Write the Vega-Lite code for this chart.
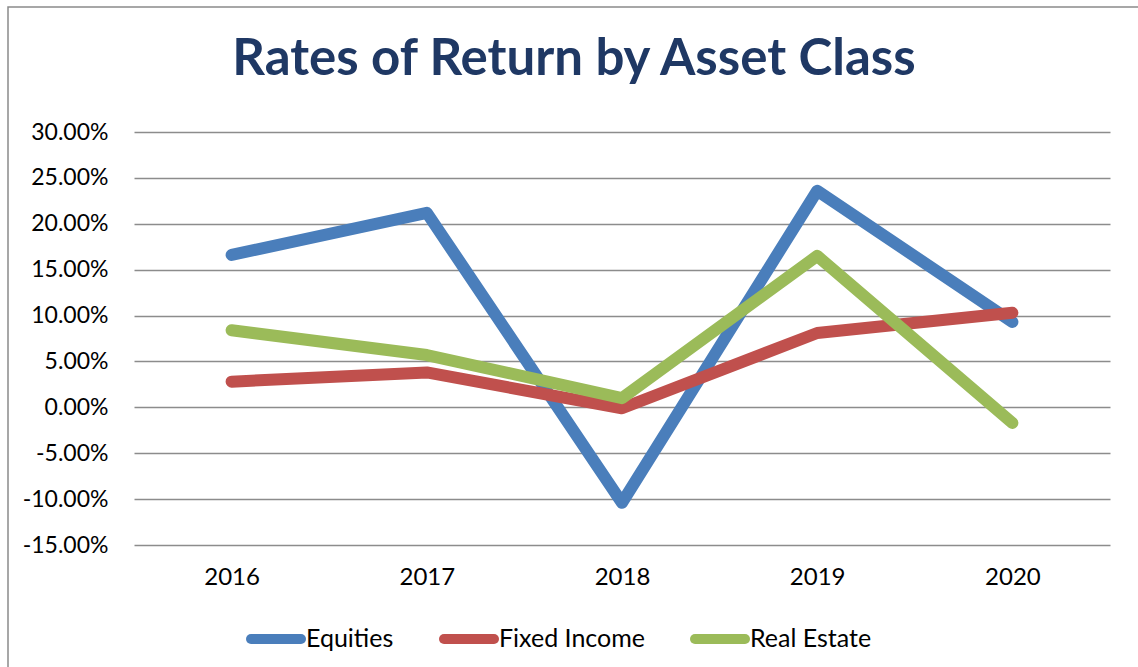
{
  "$schema": "https://vega.github.io/schema/vega-lite/v6.json",
  "autosize": "none",
  "width": 1132,
  "height": 661,
  "padding": {"left": 8, "top": 7, "right": 0, "bottom": 0},
  "background": "white",
  "title": {
    "text": "Rates of Return by Asset Class",
    "anchor": "middle",
    "font": "Lato",
    "fontWeight": "bold",
    "fontSize": 51,
    "color": "#1F3864",
    "baseline": "alphabetic",
    "offset": -119
  },
  "config": {
    "view": {"stroke": "#8a8a8a", "strokeWidth": 1.5},
    "font": "Lato"
  },
  "data": {
    "values": [
      {"year": "2016", "series": "Equities", "value": 0.166},
      {"year": "2017", "series": "Equities", "value": 0.212},
      {"year": "2018", "series": "Equities", "value": -0.104},
      {"year": "2019", "series": "Equities", "value": 0.236},
      {"year": "2020", "series": "Equities", "value": 0.093},
      {"year": "2016", "series": "Fixed Income", "value": 0.028},
      {"year": "2017", "series": "Fixed Income", "value": 0.038},
      {"year": "2018", "series": "Fixed Income", "value": -0.001},
      {"year": "2019", "series": "Fixed Income", "value": 0.081},
      {"year": "2020", "series": "Fixed Income", "value": 0.103},
      {"year": "2016", "series": "Real Estate", "value": 0.084},
      {"year": "2017", "series": "Real Estate", "value": 0.057},
      {"year": "2018", "series": "Real Estate", "value": 0.010},
      {"year": "2019", "series": "Real Estate", "value": 0.165},
      {"year": "2020", "series": "Real Estate", "value": -0.017}
    ]
  },
  "mark": {"type": "line", "strokeWidth": 12, "strokeCap": "round", "strokeJoin": "round"},
  "encoding": {
    "x": {
      "field": "year",
      "type": "ordinal",
      "scale": {"type": "point", "padding": 0, "range": [223.6, 1004.4]},
      "axis": {
        "title": null,
        "orient": "bottom",
        "offset": -123,
        "domain": false,
        "ticks": false,
        "grid": false,
        "labelAngle": 0,
        "labelFont": "Lato",
        "labelFontSize": 24,
        "labelColor": "#000000",
        "labelPadding": 20
      }
    },
    "y": {
      "field": "value",
      "type": "quantitative",
      "scale": {"domain": [-0.15, 0.30], "range": [538, 125], "nice": false, "zero": false},
      "axis": {
        "title": null,
        "orient": "left",
        "offset": -1102,
        "values": [-0.15, -0.10, -0.05, 0, 0.05, 0.10, 0.15, 0.20, 0.25, 0.30],
        "format": ".2%",
        "labelExpr": "replace(datum.label, '\u2212', '-')",
        "domain": false,
        "grid": false,
        "ticks": true,
        "tickSize": 976,
        "tickColor": "#8c8c8c",
        "tickWidth": 1.5,
        "labelPadding": 26,
        "labelFont": "Lato",
        "labelFontSize": 23,
        "labelColor": "#000000"
      }
    },
    "color": {
      "field": "series",
      "type": "nominal",
      "scale": {"domain": ["Equities", "Fixed Income", "Real Estate"], "range": ["#4A7EBB", "#C0504D", "#9BBB59"]},
      "legend": {
        "title": null,
        "orient": "none",
        "direction": "horizontal",
        "legendX": 238,
        "legendY": 602,
        "padding": 0,
        "symbolType": "stroke",
        "symbolSize": 2500,
        "symbolStrokeWidth": 10,
        "labelOffset": 0,
        "columnPadding": 30,
        "labelFont": "Lato",
        "labelFontSize": 25,
        "labelColor": "#000000",
        "encode": {"symbols": {"update": {"strokeCap": {"value": "round"}}}}
      }
    }
  }
}
